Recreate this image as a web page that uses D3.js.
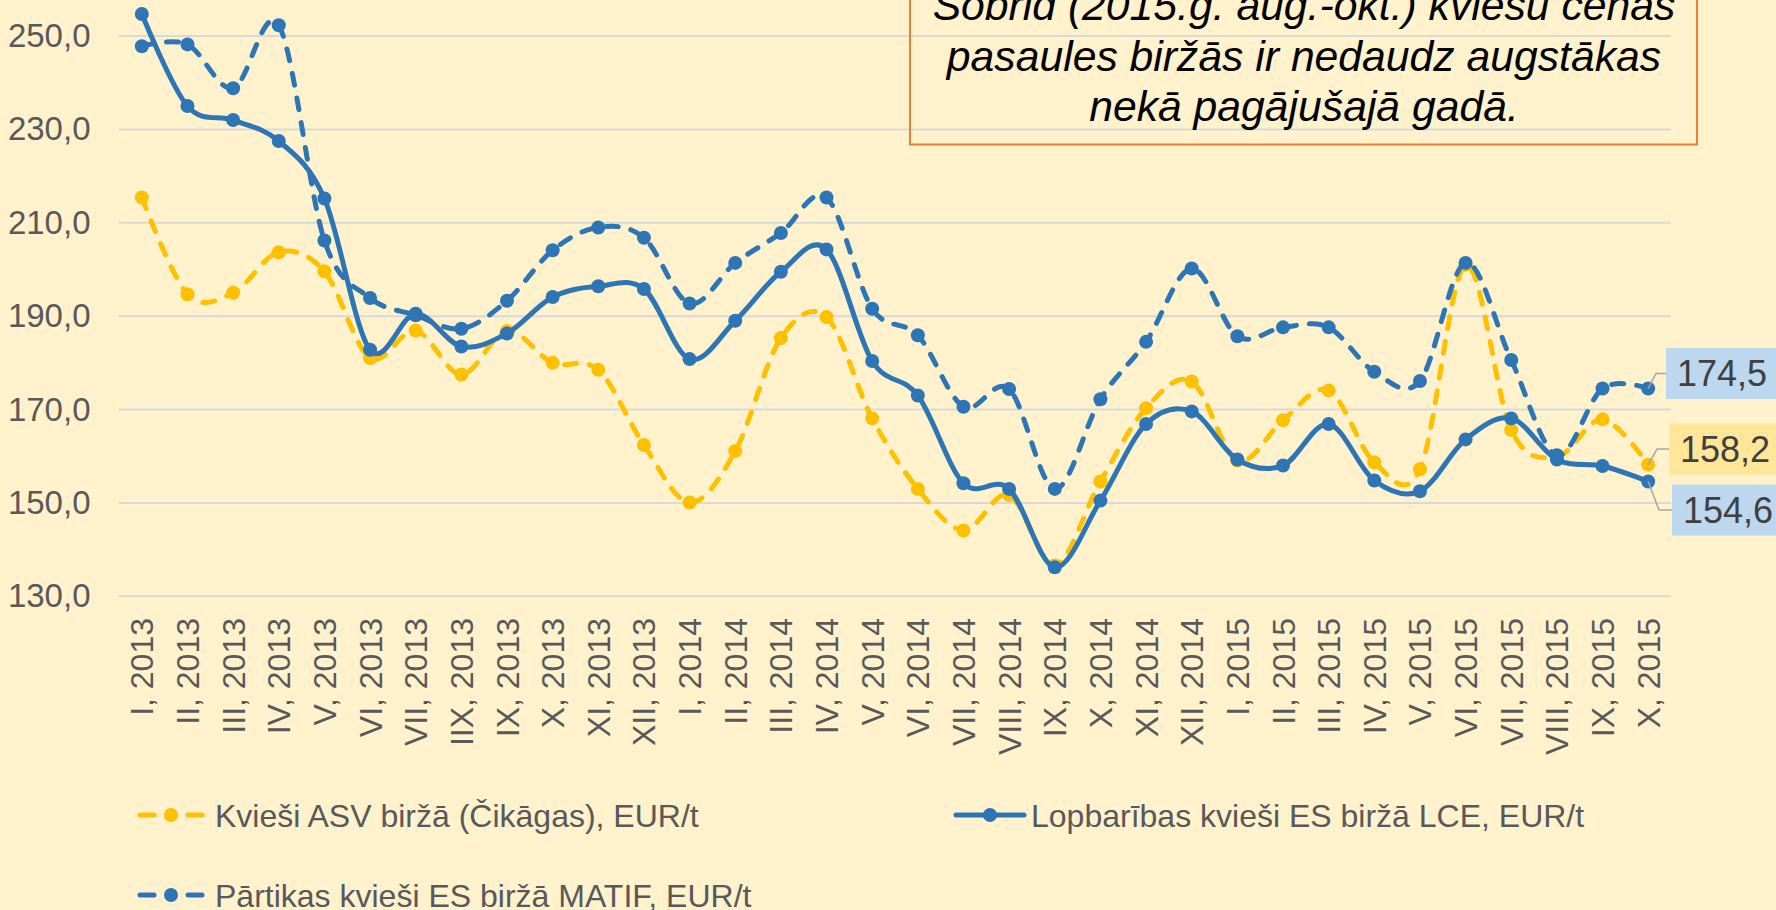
<!DOCTYPE html>
<html><head><meta charset="utf-8">
<script src="https://cdn.jsdelivr.net/npm/d3@7"></script>
<style>
html,body{margin:0;padding:0;background:#FFF2CC;overflow:hidden;}
svg{display:block;font-family:"Liberation Sans",Arial,sans-serif;}
</style></head><body>
<svg id="chart" width="1776" height="910"></svg>
<script>
const categories = ["I, 2013","II, 2013","III, 2013","IV, 2013","V, 2013","VI, 2013","VII, 2013","IIX, 2013","IX, 2013","X, 2013","XI, 2013","XII, 2013",
  "I, 2014","II, 2014","III, 2014","IV, 2014","V, 2014","VI, 2014","VII, 2014","VIII, 2014","IX, 2014","X, 2014","XI, 2014","XII, 2014",
  "I, 2015","II, 2015","III, 2015","IV, 2015","V, 2015","VI, 2015","VII, 2015","VIII, 2015","IX, 2015","X, 2015"];
const asvValues = [215.4,194.7,195.0,203.7,199.6,181.0,186.9,177.5,186.8,180.0,178.5,162.4,
  150.1,161.1,185.3,189.8,168.1,153.0,144.1,151.7,136.6,154.6,170.3,176.0,
  159.1,167.7,174.1,158.7,157.2,201.0,165.6,159.9,167.9,158.2];
const lceValues = [254.7,235.0,232.0,227.5,215.2,182.8,190.5,183.5,186.3,194.1,196.4,195.8,
  180.8,189.0,199.5,204.3,180.4,173.0,154.2,153.0,136.2,150.5,166.9,169.6,
  159.3,158.0,166.9,154.8,152.5,163.6,168.1,159.3,157.9,154.6];
const matifValues = [247.8,248.2,238.8,252.3,206.2,193.9,190.2,187.3,193.3,204.1,209.0,206.8,
  192.7,201.4,207.8,215.4,191.6,185.9,170.6,174.4,153.0,172.2,184.5,200.2,
  185.7,187.6,187.6,178.1,176.1,201.4,180.6,160.2,174.5,174.5];
const yTicks = [130,150,170,190,210,230,250];
const seriesNames = ["Kvieši ASV biržā (Čikāgas), EUR/t","Lopbarības kvieši ES biržā LCE, EUR/t","Pārtikas kvieši ES biržā MATIF, EUR/t"];
const seriesColors = ["#FFC000","#2E75B6","#2E75B6"];
const seriesDashed = [true,false,true];
const labelFills = ["#FFE699","#BDD7EE","#BDD7EE"];
const calloutLines = ["Šobrīd (2015.g. aug.-okt.) kviešu cenas","pasaules biržās ir nedaudz augstākas","nekā pagājušajā gadā."];

const seriesValues = [asvValues, lceValues, matifValues];
const svg = d3.select("#chart");
const W = 1776, H = 910;
svg.append("rect").attr("width",W).attr("height",H).attr("fill","#FFF2CC");

const left = 119, right = 1671;
const x = d3.scaleBand().domain(categories).range([left,right]);
const cx = c => x(c) + x.bandwidth()/2;
const y = d3.scaleLinear().domain([130,250]).range([596.3,36]);
const fmt = v => d3.format(".1f")(v).replace(".",",");

// gridlines
svg.append("g").selectAll("line").data(yTicks).join("line")
  .attr("x1",left).attr("x2",right)
  .attr("y1",d=>y(d)).attr("y2",d=>y(d))
  .attr("stroke","#D9D9D9").attr("stroke-width",2);

// y axis
const yAxis = d3.axisLeft(y).tickValues(yTicks).tickFormat(fmt).tickSize(0).tickPadding(0);
const gy = svg.append("g").attr("transform","translate(90.5,0)").call(yAxis);
gy.select(".domain").remove();
gy.selectAll("text").attr("font-size",33).attr("fill","#595959").attr("font-family","Liberation Sans, Arial, sans-serif");

// x axis
const xAxis = d3.axisBottom(x).tickSize(0);
const gx = svg.append("g").attr("transform","translate(0,618)").call(xAxis);
gx.select(".domain").remove();
gx.selectAll("text").attr("font-size",32).attr("fill","#595959").attr("font-family","Liberation Sans, Arial, sans-serif")
  .attr("text-anchor","end").attr("transform","rotate(-90)").attr("x",0).attr("y",0).attr("dy","0.36em").attr("dx",0);

// callout box
svg.append("rect").attr("x",910).attr("y",-40).attr("width",787).attr("height",184.5)
  .attr("fill","none").attr("stroke","#ED7D31").attr("stroke-width",2);
svg.append("g").selectAll("text").data(calloutLines).join("text")
  .attr("x",1304).attr("y",(d,i)=>20+i*50.5).attr("text-anchor","middle")
  .attr("font-size",42.7).attr("font-style","italic").attr("fill","#000").text(d=>d);

// series
const line = d3.line().x((d,i)=>cx(categories[i])).y(d=>y(d)).curve(d3.curveCatmullRom.alpha(0));
seriesValues.forEach((vals,s)=>{
  const g = svg.append("g");
  g.append("path").datum(vals).attr("d",line).attr("fill","none")
    .attr("stroke",seriesColors[s]).attr("stroke-width",5)
    .attr("stroke-linecap","round").attr("stroke-linejoin","round")
    .attr("stroke-dasharray",seriesDashed[s]?"12,13":null);
  g.selectAll("circle").data(vals).join("circle")
    .attr("cx",(d,i)=>cx(categories[i])).attr("cy",d=>y(d)).attr("r",7)
    .attr("fill",seriesColors[s]);
});

// end labels
const lastIdx = categories.length-1;
const lx = cx(categories[lastIdx]);
const endLabels = [
  {s:2, dy:-15, boxX:1666, elbowX:1656},
  {s:0, dy:-15.6, boxX:1669, elbowX:1657},
  {s:1, dy:28.6, boxX:1672, elbowX:1659}
];
endLabels.forEach(l=>{
  const v = seriesValues[l.s][lastIdx];
  const py = y(v), ly = py + l.dy;
  svg.append("polyline").attr("points",`${lx},${py} ${l.elbowX},${ly} ${l.boxX},${ly}`)
    .attr("fill","none").attr("stroke","#A6A6A6").attr("stroke-width",1.5);
  svg.append("rect").attr("x",l.boxX).attr("y",ly-25.5).attr("width",W-l.boxX+5).attr("height",51)
    .attr("fill",labelFills[l.s]);
  svg.append("text").attr("x",l.boxX+11).attr("y",ly).attr("dy","0.36em")
    .attr("font-size",36).attr("fill","#404040").text(fmt(v));
});

// legend
const legendItems = [
  {s:0, x:138, y:815},
  {s:1, x:954, y:815},
  {s:2, x:138, y:895}
];
legendItems.forEach(it=>{
  const g = svg.append("g");
  const s = it.s;
  if (seriesDashed[s]) {
    g.append("line").attr("x1",it.x+2).attr("x2",it.x+16).attr("y1",it.y).attr("y2",it.y)
      .attr("stroke",seriesColors[s]).attr("stroke-width",5).attr("stroke-linecap","round");
    g.append("line").attr("x1",it.x+50).attr("x2",it.x+64).attr("y1",it.y).attr("y2",it.y)
      .attr("stroke",seriesColors[s]).attr("stroke-width",5).attr("stroke-linecap","round");
  } else {
    g.append("line").attr("x1",it.x+2).attr("x2",it.x+70).attr("y1",it.y).attr("y2",it.y)
      .attr("stroke",seriesColors[s]).attr("stroke-width",5).attr("stroke-linecap","round");
  }
  g.append("circle").attr("cx",seriesDashed[s]?it.x+33:it.x+36).attr("cy",it.y).attr("r",7).attr("fill",seriesColors[s]);
  g.append("text").attr("x",it.x+77).attr("y",it.y).attr("dy","0.36em")
    .attr("font-size",32).attr("fill","#595959").text(seriesNames[s]);
});
</script>
</body></html>
